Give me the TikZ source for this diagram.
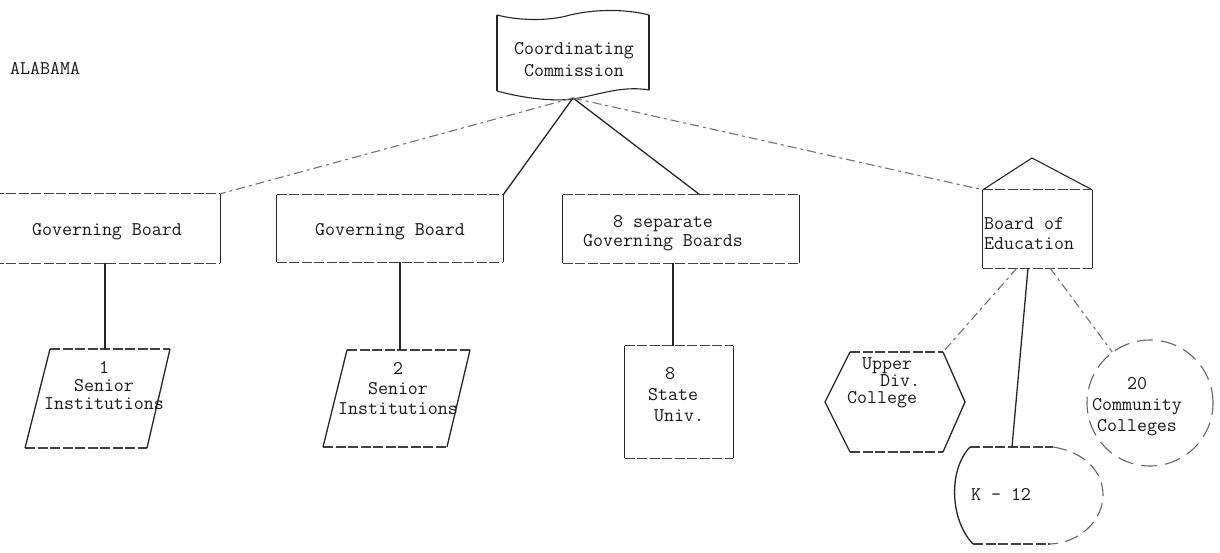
\documentclass[tikz,border=0pt]{standalone}
\usepackage{fontspec}
\usetikzlibrary{calc}
% typed box: dashed horizontal edges, solid vertical edges
\newcommand\typedbox[1]{%
  \draw[hrule] (#1.north west) -- (#1.north east) (#1.south west) -- (#1.south east);
  \draw[ink] (#1.north west) -- (#1.south west) (#1.north east) -- (#1.south east);}
\begin{document}
\begin{tikzpicture}[x=1pt,y=-1pt,
  ink/.style={draw=black!85, line width=1.3pt},
  faint/.style={draw=black!55, line width=1.1pt, dash pattern=on 9pt off 4pt on 3pt off 4pt},
  hrule/.style={draw=black!75, line width=1.2pt, dash pattern=on 10pt off 2.5pt},
  lbl/.style={font=\ttfamily\fontsize{19.4}{#1}\selectfont, text=black!90, inner sep=0pt, align=center},
  lbl/.default=20,
  frame/.style={inner sep=0pt, draw=none}]

\path[use as bounding box] (0,0) rectangle (1220,552);

% state label
\node[lbl, anchor=west] (alabama) at (10,68) {ALABAMA};

% coordinating commission (banner with wavy top and bottom)
\draw[ink, line width=1.1pt] (497,15) .. controls (520,21) and (550,21) .. (570,15)
  .. controls (600,8) and (630,10) .. (649,15);
\draw[ink, line width=1.1pt] (497,91) .. controls (530,100) and (558,101) .. (573,99)
  .. controls (595,96) and (622,85) .. (649,90);
\draw[ink] (497,15) -- (497,91) (649,15) -- (649,90);
\node[lbl=22] (cctext) at (574,60) {Coordinating\\Commission};
\coordinate (ccb) at (573,98);

% governing boards
\node[frame, minimum width=226pt, minimum height=69pt] (gb1) at (107,228.5) {};
\node[frame, minimum width=226pt, minimum height=67pt] (gb2) at (390,228.5) {};
\node[frame, minimum width=236pt, minimum height=68pt] (gb3) at (681,229) {};
\node[frame, minimum width=109pt, minimum height=78pt] (boe) at (1037.5,229) {};
\typedbox{gb1}
\typedbox{gb2}
\typedbox{gb3}
\typedbox{boe}
\coordinate (apex) at (1032,158);
\draw[ink, line width=1.1pt] (boe.north west) -- (apex) -- (boe.north east);

\node[lbl] (gb1text) at (107,232) {Governing Board};
\node[lbl] (gb2text) at (390,232) {Governing Board};
\node[lbl=19] (gb3text) at (663,233) {8 separate\\Governing Boards};
\node[lbl, anchor=west, align=left] (boetext) at (984,234) {Board of\\Education};

% senior institutions (parallelograms)
\draw[hrule] (50,349) -- (170,349) (25,448) -- (147,448);
\draw[ink] (50,349) -- (25,448) (170,349) -- (147,448);
\coordinate (p1top) at (105,349);
\node[lbl=18] (p1text) at (104,386) {1\\Senior\\Institutions};

\draw[hrule] (347,350) -- (470,350) (323,447) -- (447,447);
\draw[ink] (347,350) -- (323,447) (470,350) -- (447,447);
\coordinate (p2top) at (400,350);
\node[lbl] (p2text) at (398,389) {2\\Senior\\Institutions};

% state universities
\node[frame, minimum width=108pt, minimum height=112pt] (su) at (679,402) {};
\typedbox{su}
\coordinate (sutop) at (673,346);
\node[lbl=21, anchor=west, align=left] (sutext) at (648,395)
  {\hspace*{17pt}8\\State\\\hspace*{6pt}Univ.};

% upper division college (hexagon)
\draw[hrule] (850,352) -- (943,352) (850,452) -- (943,452);
\draw[ink] (943,352) -- (965,402) -- (943,452) (850,352) -- (825,402) -- (850,452);
\coordinate (hexTR) at (943,352);
\node[lbl=17, anchor=west, align=left] (hextext) at (847,383)
  {\hspace*{15pt}Upper\\\hspace*{33pt}Div.\\College};

% community colleges (circle)
\node[circle, minimum size=126pt, inner sep=0pt, draw=black!60, line width=1.1pt,
  dash pattern=on 16pt off 8pt] (comcol) at (1150,403) {};
\node[lbl=21] (comcoltext) at (1137,407) {20\\Community\\Colleges};

% K-12
\draw[hrule] (970,447) -- (1053,447) (973,544) -- (1050,544);
\draw[draw=black!60, line width=1.1pt, dash pattern=on 14pt off 7pt]
  (1053,447) .. controls (1085,452) and (1103,472) .. (1103,495)
  .. controls (1103,520) and (1080,543) .. (1050,544);
\draw[ink] (973,544) .. controls (950,520) and (948,470) .. (970,447);
\coordinate (k12top) at (1012,447);
\node[lbl] (k12text) at (1001,494) {K - 12};

% connectors from the commission
\draw[faint] (ccb) -- (gb1.north east);
\draw[ink] (ccb) -- (gb2.north east);
\draw[ink] (ccb) -- ($(gb3.north west)!0.58!(gb3.north east)$);
\draw[faint] (ccb) -- (boe.north west);

% connectors from the boards
\draw[ink] (p1top |- gb1.south) -- (p1top);
\draw[ink] (p2top |- gb2.south) -- (p2top);
\draw[ink] (sutop |- gb3.south) -- (sutop);

\coordinate (boeL) at (1017,268);
\coordinate (boeM) at (1028,268);
\coordinate (boeR) at (1050,268);
\draw[faint] (boeL) -- (hexTR);
\draw[ink] (boeM) -- (k12top);
\draw[faint] (boeR) -- (comcol);
\end{tikzpicture}
\end{document}
